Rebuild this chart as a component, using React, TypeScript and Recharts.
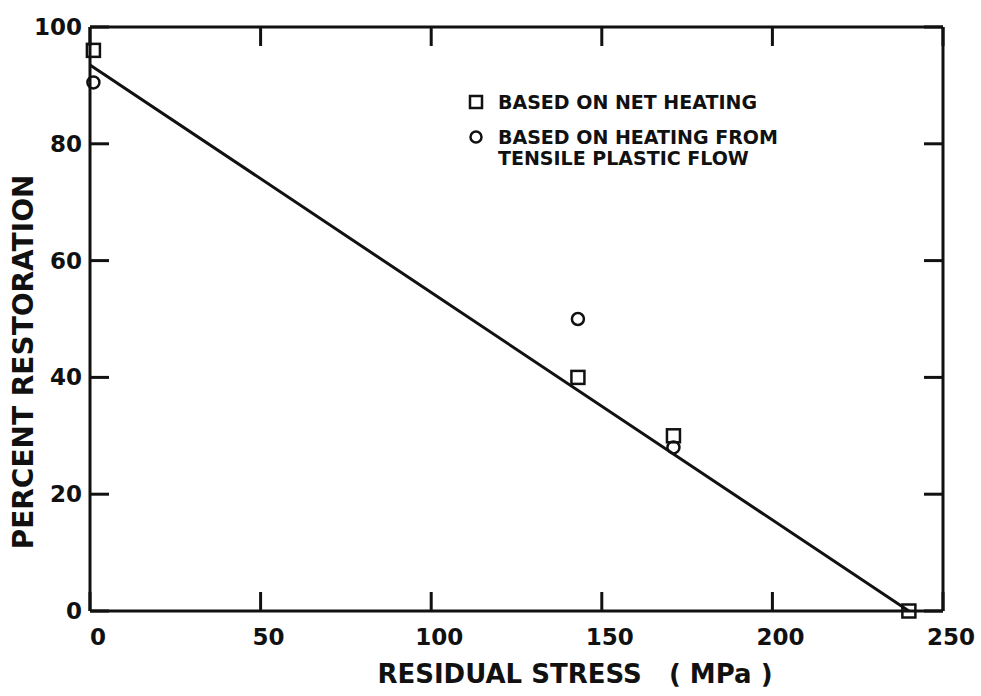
import React from 'react';
import { ComposedChart, XAxis, YAxis, Scatter, Line } from 'recharts';

// Residual stress (MPa) vs percent restoration
const netHeatingStress = [1, 143, 171, 240];
const netHeatingRestoration = [96, 40, 30, 0];
const plasticFlowStress = [1, 143, 171];
const plasticFlowRestoration = [90.5, 50, 28];
const fitStress = [0, 240];
const fitRestoration = [93.5, 0];
const xTicks = [0, 50, 100, 150, 200, 250];
const yTicks = [0, 20, 40, 60, 80, 100];
const legendLabels = ['BASED ON NET HEATING', 'BASED ON HEATING FROM', 'TENSILE PLASTIC FLOW'];
const xTitle = 'RESIDUAL STRESS   ( MPa )';
const yTitle = 'PERCENT RESTORATION';

const netData = netHeatingStress.map((x, i) => ({ x, y: netHeatingRestoration[i] }));
const flowData = plasticFlowStress.map((x, i) => ({ x, y: plasticFlowRestoration[i] }));
const fitData = fitStress.map((x, i) => ({ x, y: fitRestoration[i] }));

const INK = '#111';
const FONT = '"DejaVu Sans", sans-serif';
const TICK_LEN = 19;

const BottomTick = (p: any) => (
  <g>
    <line x1={p.x} y1={p.y} x2={p.x} y2={p.y - TICK_LEN} stroke={INK} strokeWidth={3} />
    <text x={p.x + 8} y={p.y + 26} textAnchor="middle" dominantBaseline="central"
      fontFamily={FONT} fontWeight="bold" fontSize={23} fill={INK}>{p.payload.value}</text>
  </g>
);
const TopTick = (p: any) => (
  <line x1={p.x} y1={p.y} x2={p.x} y2={p.y + TICK_LEN} stroke={INK} strokeWidth={3} />
);
const LeftTick = (p: any) => (
  <g>
    <line x1={p.x} y1={p.y} x2={p.x + TICK_LEN} y2={p.y} stroke={INK} strokeWidth={3} />
    <text x={p.x - 8} y={p.y} textAnchor="end" dominantBaseline="central"
      fontFamily={FONT} fontWeight="bold" fontSize={23} fill={INK}>{p.payload.value}</text>
  </g>
);
const RightTick = (p: any) => (
  <line x1={p.x} y1={p.y} x2={p.x - TICK_LEN} y2={p.y} stroke={INK} strokeWidth={3} />
);

const SquareShape = (p: any) => (
  <rect x={p.cx - 6.5} y={p.cy - 6.5} width={13} height={13} fill="none" stroke={INK} strokeWidth={2.5} />
);
const CircleShape = (p: any) => (
  <circle cx={p.cx} cy={p.cy} r={6} fill="none" stroke={INK} strokeWidth={2.5} />
);

export default function App() {
  return (
    <div style={{ position: 'absolute', left: 0, top: 0, background: '#fff' }}>
      <ComposedChart width={981} height={696} margin={{ top: 26, right: 37, left: 89, bottom: 84 }}>
        <XAxis xAxisId="b" dataKey="x" type="number" domain={[0, 250]} ticks={xTicks} interval={0}
          height={1} tickSize={0} tickMargin={0} tickLine={false} tick={<BottomTick />}
          axisLine={{ stroke: INK, strokeWidth: 3 }} />
        <XAxis xAxisId="t" orientation="top" dataKey="x" type="number" domain={[0, 250]} ticks={xTicks} interval={0}
          height={1} tickSize={0} tickMargin={0} tickLine={false} tick={<TopTick />}
          axisLine={{ stroke: INK, strokeWidth: 3 }} />
        <YAxis yAxisId="l" type="number" domain={[0, 100]} ticks={yTicks} interval={0}
          width={1} tickSize={0} tickMargin={0} tickLine={false} tick={<LeftTick />}
          axisLine={{ stroke: INK, strokeWidth: 3 }} />
        <YAxis yAxisId="r" orientation="right" type="number" domain={[0, 100]} ticks={yTicks} interval={0}
          width={1} tickSize={0} tickMargin={0} tickLine={false} tick={<RightTick />}
          axisLine={{ stroke: INK, strokeWidth: 3 }} />
        <Line xAxisId="b" yAxisId="l" data={fitData} dataKey="y" stroke={INK} strokeWidth={3}
          dot={false} activeDot={false} isAnimationActive={false} />
        <Scatter xAxisId="t" yAxisId="r" data={fitData} dataKey="y" shape={() => null} isAnimationActive={false} />
        <Scatter xAxisId="b" yAxisId="l" data={netData} dataKey="y" shape={<SquareShape />} isAnimationActive={false} />
        <Scatter xAxisId="b" yAxisId="l" data={flowData} dataKey="y" shape={<CircleShape />} isAnimationActive={false} />
        <text x={575} y={674} textAnchor="middle" dominantBaseline="central" fontFamily={FONT}
          fontWeight="bold" fontSize={26} fill={INK} style={{ whiteSpace: 'pre' }}>{xTitle}</text>
        <text x={23} y={362} textAnchor="middle" dominantBaseline="central" fontFamily={FONT}
          fontWeight="bold" fontSize={28} fill={INK} transform="rotate(-90 23 362)">{yTitle}</text>
        <g>
          <rect x={470} y={96} width={12} height={12} fill="none" stroke={INK} strokeWidth={2.5} />
          <circle cx={476} cy={137} r={5.5} fill="none" stroke={INK} strokeWidth={2.5} />
          <text x={498} y={102} dominantBaseline="central" fontFamily={FONT} fontWeight="bold" fontSize={19} fill={INK}>{legendLabels[0]}</text>
          <text x={498} y={137} dominantBaseline="central" fontFamily={FONT} fontWeight="bold" fontSize={19} fill={INK}>{legendLabels[1]}</text>
          <text x={498} y={158} dominantBaseline="central" fontFamily={FONT} fontWeight="bold" fontSize={19} fill={INK}>{legendLabels[2]}</text>
        </g>
      </ComposedChart>
    </div>
  );
}
